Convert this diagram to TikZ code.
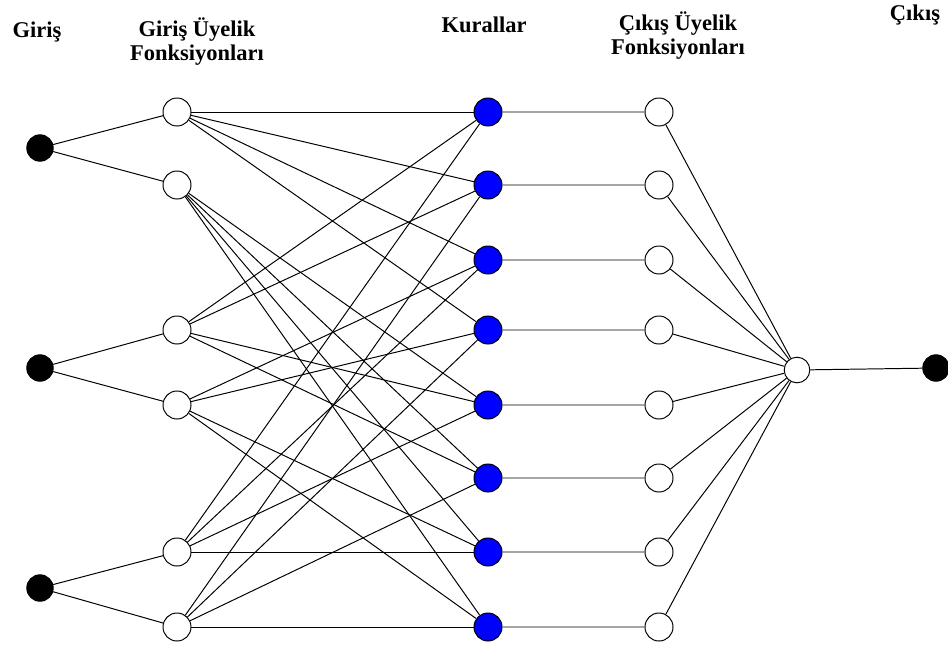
\documentclass[tikz,border=0pt]{standalone}
\usepackage{fontspec}
\setmainfont{Liberation Serif}
\tikzset{
  girisnode/.style={circle,draw=black,fill=black,minimum size=0.66cm,inner sep=0pt},
  mfnode/.style={circle,draw=black,fill=white,minimum size=0.7cm,inner sep=0pt},
  kuralnode/.style={circle,draw=black,fill=blue,minimum size=0.7cm,inner sep=0pt},
  baslik/.style={font=\bfseries\fontsize{16}{17}\selectfont,align=center,inner sep=0pt}
}
\begin{document}
\begin{tikzpicture}[x=0.025cm,y=-0.025cm,line width=0.7pt]
    \useasboundingbox (0,0) rectangle (948,645);
    % basliklar
    \node[baslik,anchor=base] (tgiris) at (37,37) {Giriş};
    \node[baslik] (tgmf) at (197,42) {Giriş Üyelik\\Fonksiyonları};
    \node[baslik,anchor=base] (tkural) at (484,32) {Kurallar};
    \node[baslik] (tcmf) at (678,36) {Çıkış Üyelik\\Fonksiyonları};
    \node[baslik,anchor=base] (tcikis) at (915,20) {Çıkış};
    % girisler
    \node[girisnode] (x1) at (40,148) {};
    \node[girisnode] (x2) at (40,368) {};
    \node[girisnode] (x3) at (40,588) {};
    % giris uyelik fonksiyonlari
    \node[mfnode] (m1) at (177,112) {};
    \node[mfnode] (m2) at (177,185) {};
    \node[mfnode] (m3) at (177,330) {};
    \node[mfnode] (m4) at (177,405) {};
    \node[mfnode] (m5) at (177,552) {};
    \node[mfnode] (m6) at (177,627) {};
    % kurallar ve cikis uyelik fonksiyonlari
    \foreach \i/\y in {1/112,2/185,3/260,4/330,5/405,6/478,7/552,8/627} {
      \node[kuralnode] (k\i) at (488,\y) {};
      \node[mfnode] (o\i) at (659,\y) {};
    }
    \node[mfnode,minimum size=0.64cm] (top) at (797,370) {};
    \node[girisnode] (y) at (936,368) {};
    % baglantilar
    \draw (x1) -- (m1) (x1) -- (m2);
    \draw (x2) -- (m3) (x2) -- (m4);
    \draw (x3) -- (m5) (x3) -- (m6);
    \foreach \k in {1,2,3,4} \draw (m1) -- (k\k);
    \foreach \k in {5,6,7,8} \draw (m2) -- (k\k);
    \foreach \k in {1,2,5,6} \draw (m3) -- (k\k);
    \foreach \k in {3,4,7,8} \draw (m4) -- (k\k);
    \foreach \k in {1,3,5,7} \draw (m5) -- (k\k);
    \foreach \k in {2,4,6,8} \draw (m6) -- (k\k);
    \foreach \k in {1,...,8} \draw (k\k) -- (o\k) (o\k) -- (top);
    \draw (top) -- (y);
\end{tikzpicture}
\end{document}
